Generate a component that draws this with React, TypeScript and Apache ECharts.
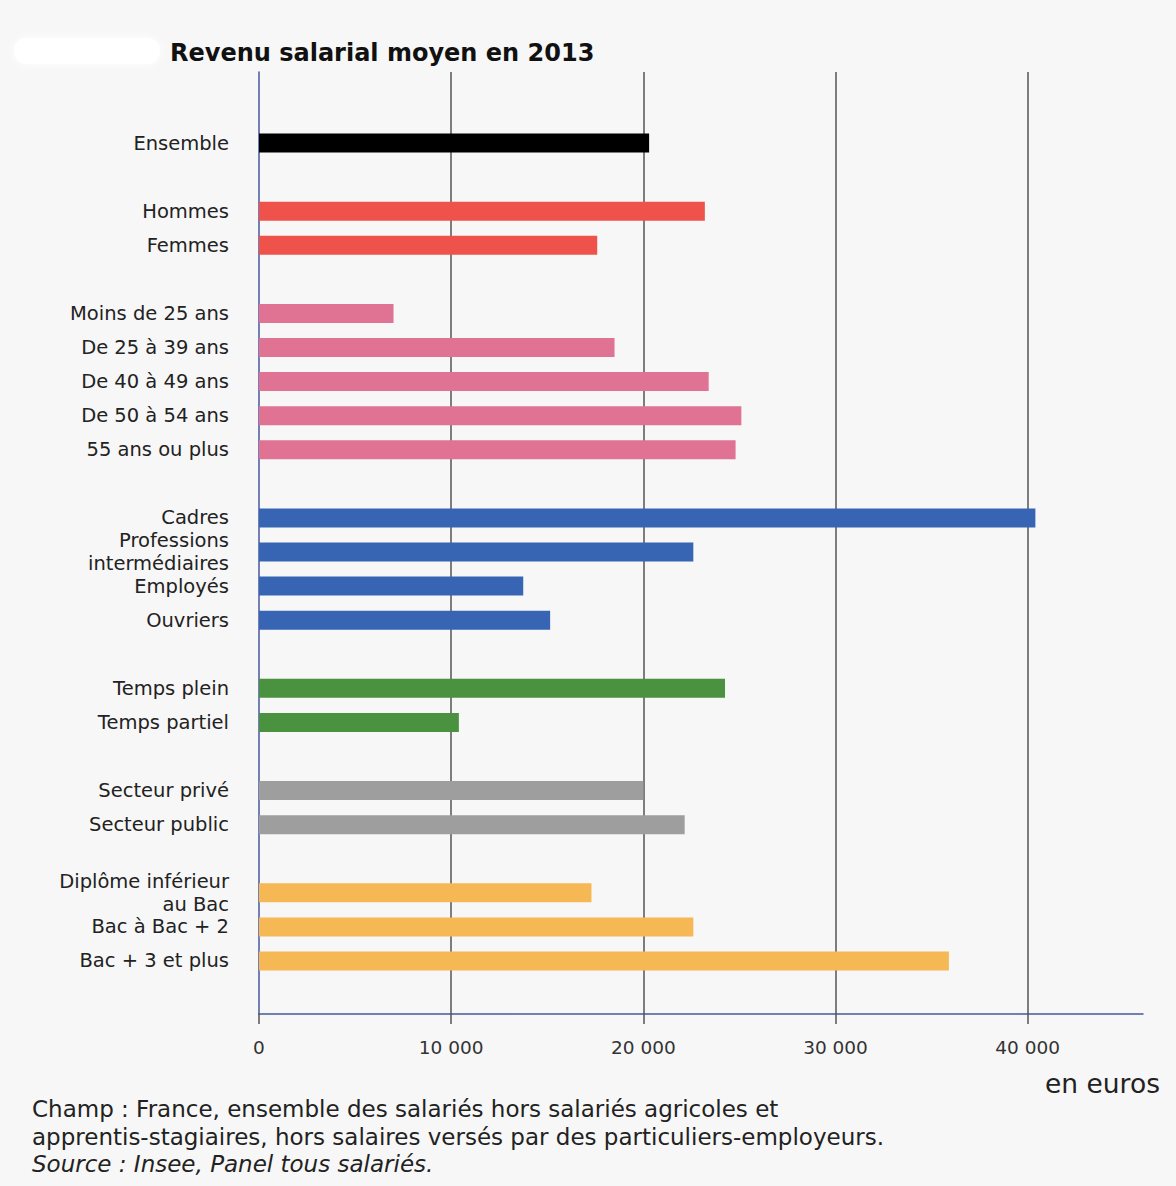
import React, { useEffect, useRef } from "react";
import * as echarts from "echarts";

const FONT = "DejaVu Sans, Verdana, sans-serif";

// Data groups (values in euros)
const ensembleLabels = ["Ensemble"];
const ensembleValues = [20300];
const sexeLabels = ["Hommes", "Femmes"];
const sexeValues = [23200, 17600];
const ageLabels = ["Moins de 25 ans", "De 25 à 39 ans", "De 40 à 49 ans", "De 50 à 54 ans", "55 ans ou plus"];
const ageValues = [7000, 18500, 23400, 25100, 24800];
const cspLabels = ["Cadres", "Professions\nintermédiaires", "Employés", "Ouvriers"];
const cspValues = [40400, 22600, 13750, 15150];
const tempsLabels = ["Temps plein", "Temps partiel"];
const tempsValues = [24250, 10400];
const secteurLabels = ["Secteur privé", "Secteur public"];
const secteurValues = [20000, 22150];
const diplomeLabels = ["Diplôme inférieur\nau Bac", "Bac à Bac + 2", "Bac + 3 et plus"];
const diplomeValues = [17300, 22600, 35900];

const groupColors = ["#000000", "#ef524a", "#e07394", "#3864b4", "#4a9140", "#9e9e9e", "#f6b855"];

const tickValues = [0, 10000, 20000, 30000, 40000];
const axisMax = 46000;

const title = "Revenu salarial moyen en 2013";
const unitLabel = "en euros";
const footerLines = [
  "Champ : France, ensemble des salariés hors salariés agricoles et",
  "apprentis-stagiaires, hors salaires versés par des particuliers-employeurs.",
];
const sourceLine = "Source : Insee, Panel tous salariés.";

const groups = [
  [ensembleLabels, ensembleValues],
  [sexeLabels, sexeValues],
  [ageLabels, ageValues],
  [cspLabels, cspValues],
  [tempsLabels, tempsValues],
  [secteurLabels, secteurValues],
  [diplomeLabels, diplomeValues],
] as [string[], number[]][];

function buildData() {
  const cats: string[] = [];
  const data: any[] = [];
  groups.forEach(([labels, values], gi) => {
    if (gi > 0) {
      cats.push(" ".repeat(gi));
      data.push("-");
    }
    labels.forEach((l, i) => {
      cats.push(l);
      data.push({ value: values[i], itemStyle: { color: groupColors[gi] } });
    });
  });
  return { cats, data };
}

const fmt = (v: number) => {
  const s = String(Math.round(v));
  return s.replace(/\B(?=(\d{3})+(?!\d))/g, " ");
};

export default function App() {
  const ref = useRef<HTMLDivElement>(null);
  useEffect(() => {
    document.body.style.margin = "0";
    const chart = echarts.init(ref.current!, null, { renderer: "svg" });
    const { cats, data } = buildData();
    const axisBlue = "#46589c";
    const gridGray = "#555555";
    chart.setOption({
      animation: false,
      backgroundColor: "#f7f7f7",
      textStyle: { fontFamily: FONT },
      title: {
        text: title,
        left: 165,
        top: 36,
        textStyle: { fontSize: 24, fontWeight: "bold", color: "#111", fontFamily: FONT },
      },
      grid: [
        { left: 259, right: 33, top: 72, bottom: 172 },
        { left: 259, right: 33, top: 126, bottom: 208 },
      ],
      xAxis: [
        {
          type: "value",
          gridIndex: 0,
          min: 0,
          max: axisMax,
          interval: 10000,
          axisLine: { show: true, lineStyle: { color: axisBlue, width: 1.5 } },
          axisTick: { show: true, length: 10, customValues: tickValues, lineStyle: { color: gridGray, width: 1.5 } },
          axisLabel: {
            customValues: tickValues,
            formatter: (v: number) => fmt(v),
            fontSize: 18.5,
            color: "#333",
            margin: 24,
            fontFamily: FONT,
          },
          splitLine: { show: false },
        },
        {
          type: "value",
          gridIndex: 1,
          min: 0,
          max: axisMax,
          show: false,
          splitLine: { show: false },
        },
      ],
      yAxis: [
        {
          type: "value",
          gridIndex: 0,
          min: 0,
          max: 1,
          axisLine: { show: true, lineStyle: { color: axisBlue, width: 1.5 } },
          axisTick: { show: false },
          axisLabel: { show: false },
          splitLine: { show: false },
        },
        {
          type: "category",
          gridIndex: 1,
          inverse: true,
          data: cats,
          axisLine: { show: false },
          axisTick: { show: false },
          axisLabel: {
            interval: 0,
            fontSize: 19.5,
            color: "#222",
            margin: 30,
            lineHeight: 23,
            align: "right",
            fontFamily: FONT,
          },
          splitLine: { show: false },
        },
      ],
      series: [
        {
          type: "scatter",
          xAxisIndex: 0,
          yAxisIndex: 0,
          data: [],
          silent: true,
          markLine: {
            silent: true,
            symbol: "none",
            label: { show: false },
            lineStyle: { color: gridGray, width: 1.5, type: "solid" },
            data: tickValues.filter((v) => v > 0).map((v) => ({ xAxis: v })),
          },
        },
        {
          type: "bar",
          xAxisIndex: 1,
          yAxisIndex: 1,
          data,
          barWidth: 19,
          z: 5,
        },
      ],
      graphic: [
        {
          type: "rect",
          shape: { x: 14, y: 38, width: 146, height: 26, r: 13 },
          style: { fill: "#ffffff", shadowBlur: 8, shadowColor: "#ffffff" },
          silent: true,
        },
        {
          type: "text",
          left: 1045,
          top: 1070,
          style: { text: unitLabel, fontSize: 26.5, fill: "#222", fontFamily: FONT },
        },
        {
          type: "text",
          left: 32,
          top: 1097,
          style: { text: footerLines[0], fontSize: 23, fill: "#222", fontFamily: FONT },
        },
        {
          type: "text",
          left: 32,
          top: 1125,
          style: { text: footerLines[1], fontSize: 23, fill: "#222", fontFamily: FONT },
        },
        {
          type: "text",
          left: 32,
          top: 1152,
          style: { text: sourceLine, fontSize: 23, fontStyle: "italic", fill: "#222", fontFamily: FONT },
        },
      ],
    });
    return () => chart.dispose();
  }, []);
  return <div ref={ref} style={{ width: 1176, height: 1186 }} />;
}
